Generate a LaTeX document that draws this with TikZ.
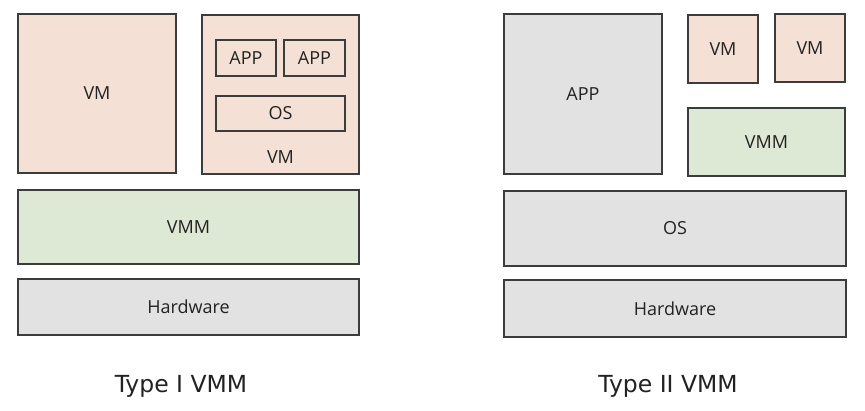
\documentclass[tikz,border=0pt]{standalone}
\usepackage{fontspec}
\setmainfont{Open Sans}
\newfontfamily\capfont{DejaVu Sans}
\definecolor{peach}{HTML}{F4E0D4}
\definecolor{mint}{HTML}{DDE8D5}
\definecolor{lgray}{HTML}{E2E2E2}
\definecolor{edge}{HTML}{3C3C3C}
\definecolor{txt}{HTML}{222222}
\tikzset{
  blk/.style={draw=edge, line width=1.4pt, rectangle, inner sep=0pt, outer sep=0pt,
    anchor=north west, text=txt, font=\fontsize{18}{20}\selectfont},
  vmblk/.style={blk, fill=peach},
  vmmblk/.style={blk, fill=mint},
  grayblk/.style={blk, fill=lgray},
  captiontext/.style={text=txt, anchor=base, inner sep=0pt, font=\capfont\fontsize{23.5}{28}\selectfont},
  lbl/.style={text=txt, font=\fontsize{18}{20}\selectfont, inner sep=0pt}
}
\begin{document}
\begin{tikzpicture}[x=1pt,y=-1pt]
\useasboundingbox (0,0) rectangle (865,411);
% Type I
\node[vmblk, minimum width=158pt, minimum height=159pt] (vmA) at (18,14) {VM};
\node[vmblk, minimum width=157pt, minimum height=159pt] (vmB) at (202,15) {};
\node[vmblk, minimum width=60pt, minimum height=36pt] (app1) at (216,40) {APP};
\node[vmblk, minimum width=61pt, minimum height=36pt] (app2) at (284,40) {APP};
\node[vmblk, minimum width=129pt, minimum height=35pt] (osA) at (216,96) {OS};
\node[lbl] (vmBl) at (vmB.south |- 0,157) {VM};
\node[vmmblk, minimum width=341pt, minimum height=74pt] (vmm1) at (18,190) {VMM};
\node[grayblk, minimum width=341pt, minimum height=56pt] (hw1) at (18,279) {Hardware};
\node[captiontext] (t1) at (181,393) {Type I VMM};
% Type II
\node[grayblk, minimum width=158pt, minimum height=160pt] (appB) at (504,14) {APP};
\node[vmblk, minimum width=70pt, minimum height=68pt] (vmC) at (688,15) {VM};
\node[vmblk, minimum width=70pt, minimum height=68pt] (vmD) at (775,14) {VM};
\node[vmmblk, minimum width=157pt, minimum height=68pt] (vmm2) at (688,108) {VMM};
\node[grayblk, minimum width=342pt, minimum height=75pt] (os2) at (504,191) {OS};
\node[grayblk, minimum width=342pt, minimum height=57pt] (hw2) at (504,280) {Hardware};
\node[captiontext] (t2) at (668,393) {Type II VMM};
\end{tikzpicture}
\end{document}
